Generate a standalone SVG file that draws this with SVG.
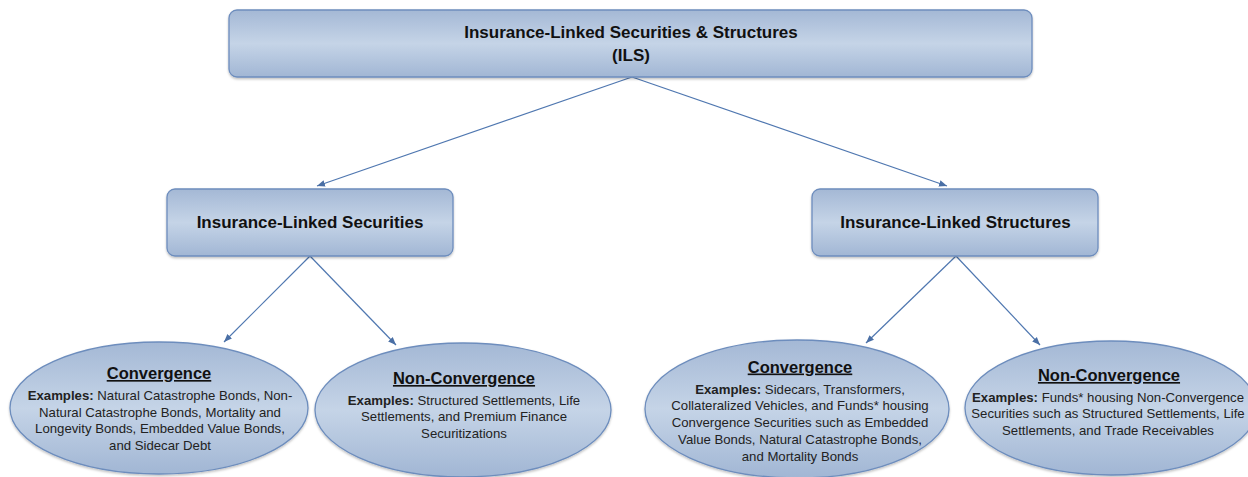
<svg xmlns="http://www.w3.org/2000/svg" width="1248" height="477" viewBox="0 0 1248 477">
<defs>
<linearGradient id="g" x1="0" y1="0" x2="0" y2="1">
<stop offset="0" stop-color="#a4b8d5"/>
<stop offset="0.5" stop-color="#c5d4e7"/>
<stop offset="1" stop-color="#a1b6d4"/>
</linearGradient>
<marker id="ah" viewBox="0 0 10 10" refX="10" refY="5" markerWidth="8" markerHeight="8" orient="auto" markerUnits="userSpaceOnUse">
<path d="M0,1 L10,5 L0,9 z" fill="#4a6fa5"/>
</marker>
<filter id="sh" x="-5%" y="-10%" width="110%" height="130%">
<feDropShadow dx="0" dy="1.5" stdDeviation="1.2" flood-color="#000" flood-opacity="0.25"/>
</filter>
</defs>
<style>
.box{fill:url(#g);stroke:#6d8dbd;stroke-width:1.3;filter:url(#sh)}
.t{font-family:"Liberation Sans",Arial,sans-serif;font-weight:bold;font-size:17px;fill:#111;text-anchor:middle}
.h{font-family:"Liberation Sans",Arial,sans-serif;font-weight:bold;font-size:16.5px;fill:#111;text-anchor:middle;text-decoration:underline}
.b{font-family:"Liberation Sans",Arial,sans-serif;font-size:13.2px;fill:#222;text-anchor:middle}
.k{font-weight:bold}
.c{stroke:#4f77b0;stroke-width:1.2;fill:none;marker-end:url(#ah)}
</style>

<g id="connectors">
<line class="c" x1="632" y1="77" x2="317" y2="186"/>
<line class="c" x1="632" y1="77" x2="947" y2="186"/>
<line class="c" x1="310" y1="256" x2="224" y2="342"/>
<line class="c" x1="310" y1="256" x2="396" y2="345"/>
<line class="c" x1="956" y1="256" x2="866" y2="343"/>
<line class="c" x1="956" y1="256" x2="1040" y2="345"/>
</g>

<g id="ils">
<rect class="box" x="229" y="10" width="803" height="67" rx="8"/>
<text class="t" x="631" y="38">Insurance-Linked Securities &amp; Structures</text>
<text class="t" x="631" y="61">(ILS)</text>
</g>

<g id="securities">
<rect class="box" x="167" y="189" width="286" height="67" rx="8"/>
<text class="t" x="310" y="228">Insurance-Linked Securities</text>
</g>

<g id="structures">
<rect class="box" x="812" y="189" width="286" height="67" rx="8"/>
<text class="t" x="955.5" y="228">Insurance-Linked Structures</text>
</g>

<g id="sec-convergence">
<ellipse class="box" cx="159" cy="408" rx="149" ry="66"/>
<text class="h" x="159" y="379">Convergence</text>
<text class="b" x="160" y="400"><tspan class="k">Examples:</tspan> Natural Catastrophe Bonds, Non-</text>
<text class="b" x="160" y="416.7">Natural Catastrophe Bonds, Mortality and</text>
<text class="b" x="160" y="433.4">Longevity Bonds, Embedded Value Bonds,</text>
<text class="b" x="160" y="450.1">and Sidecar Debt</text>
</g>

<g id="sec-nonconvergence">
<ellipse class="box" cx="463" cy="410" rx="148" ry="67"/>
<text class="h" x="464" y="384">Non-Convergence</text>
<text class="b" x="464" y="404.5"><tspan class="k">Examples:</tspan> Structured Settlements, Life</text>
<text class="b" x="464" y="421.2">Settlements, and Premium Finance</text>
<text class="b" x="464" y="437.9">Securitizations</text>
</g>

<g id="str-convergence">
<ellipse class="box" cx="797" cy="409" rx="152" ry="69"/>
<text class="h" x="800" y="372.5">Convergence</text>
<text class="b" x="800" y="393.5"><tspan class="k">Examples:</tspan> Sidecars, Transformers,</text>
<text class="b" x="800" y="410.4">Collateralized Vehicles, and Funds* housing</text>
<text class="b" x="800" y="427.3">Convergence Securities such as Embedded</text>
<text class="b" x="800" y="444.2">Value Bonds, Natural Catastrophe Bonds,</text>
<text class="b" x="800" y="461.1">and Mortality Bonds</text>
</g>

<g id="str-nonconvergence">
<ellipse class="box" cx="1111" cy="408" rx="146" ry="67"/>
<text class="h" x="1109" y="381">Non-Convergence</text>
<text class="b" x="1108" y="401.7"><tspan class="k">Examples:</tspan> Funds* housing Non-Convergence</text>
<text class="b" x="1108" y="418.4">Securities such as Structured Settlements, Life</text>
<text class="b" x="1108" y="435.1">Settlements, and Trade Receivables</text>
</g>
</svg>
